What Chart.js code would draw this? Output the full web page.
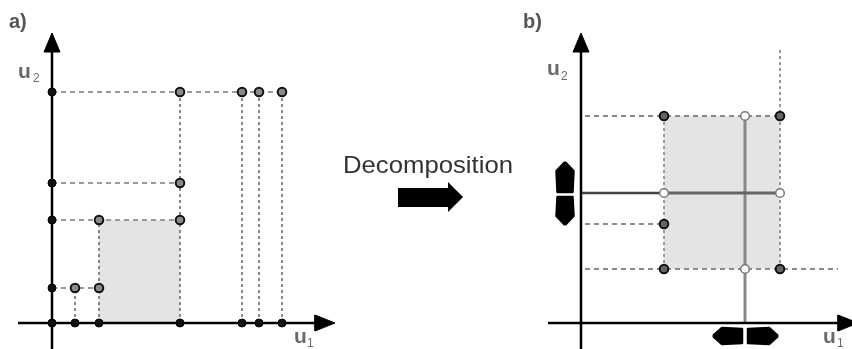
<!DOCTYPE html>
<html><head><meta charset="utf-8">
<script src="https://cdn.jsdelivr.net/npm/chart.js@4"></script>
<style>
html,body{margin:0;padding:0;background:#fff;width:852px;height:349px;overflow:hidden}
#a{position:absolute;left:0;top:0}
#b{position:absolute;left:520px;top:0}
svg{position:absolute;left:0;top:0}
text{font-family:"Liberation Sans",Arial,sans-serif}
</style></head><body>
<canvas id="a" width="340" height="349"></canvas>
<canvas id="b" width="332" height="349"></canvas>
<svg width="852" height="349">
  <text x="9" y="28" font-size="20" font-weight="bold" fill="#555">a)</text>
  <text x="18" y="78" font-size="21" font-weight="bold" fill="#6a6a6a">u</text>
  <text x="33" y="82" font-size="12" fill="#6a6a6a">2</text>
  <text x="294" y="343" font-size="21" font-weight="bold" fill="#6a6a6a">u</text>
  <text x="307" y="347" font-size="12" fill="#6a6a6a">1</text>
  <text x="523" y="28" font-size="20" font-weight="bold" fill="#555">b)</text>
  <text x="547" y="75" font-size="21" font-weight="bold" fill="#6a6a6a">u</text>
  <text x="561" y="80" font-size="12" fill="#6a6a6a">2</text>
  <text x="823" y="343" font-size="21" font-weight="bold" fill="#6a6a6a">u</text>
  <text x="837" y="347" font-size="12" fill="#6a6a6a">1</text>
  <text x="343" y="173" font-size="24" fill="#333" textLength="170" lengthAdjust="spacingAndGlyphs">Decomposition</text>
  <polygon points="398,188 448,188 448,182 463,197 448,212 448,207 398,207" fill="#000"/>
</svg>
<script>
// ---------- data: panel a (units of u1 / u2) ----------
const aU1Ticks = [2.3, 4.7, 12.8, 19.0, 20.7, 23.0];
const aU2Ticks = [3.5, 10.3, 14.0, 23.1];
const aPtsU1 = [2.3, 4.7, 4.7, 12.8, 12.8, 12.8, 19.0, 20.7, 23.0];
const aPtsU2 = [3.5, 3.5, 10.3, 10.3, 14.0, 23.1, 23.1, 23.1, 23.1];
const aBoxU1 = [4.7, 12.8];
const aBoxU2 = [0, 10.3];
// ---------- data: panel b ----------
const bDarkU1 = [8.3, 19.9, 8.3, 8.3, 19.9];
const bDarkU2 = [20.7, 20.7, 9.9, 5.4, 5.4];
const bOpenU1 = [16.4, 8.3, 19.9, 16.4];
const bOpenU2 = [20.7, 13.0, 13.0, 5.4];
const bBoxU1 = [8.3, 19.9];
const bBoxU2 = [5.4, 20.7];
const bCrossU1 = 16.4, bCrossU2 = 13.0;
const bHorizU2 = [20.7, 9.9, 5.4];
const bHorizEnd = [19.9, 8.3, 25.7];
const bVertU1 = [8.3, 19.9];
const bVertEnd = [20.7, 27.3];

// ---------- helpers ----------
const P = (x, y) => ({x, y});
function seg(pts, color, width, dash, order) {
  return {data: pts, showLine: true, pointRadius: 0, borderColor: color, borderWidth: width,
          borderDash: dash || [], fill: false, order: order, clip: false, tension: 0, borderCapStyle: 'butt'};
}
function poly(pts, color, border, bw, order) {
  return {data: pts.concat([pts[0]]), showLine: true, pointRadius: 0, fill: 'shape',
          backgroundColor: color, borderColor: border || color, borderWidth: bw || 0,
          borderJoinStyle: 'round', order: order, clip: false, tension: 0};
}
function pts(xs, ys, r, bg, bc, bw, order) {
  return {data: xs.map((x, i) => P(x, ys[i])), showLine: false, pointRadius: r, pointHoverRadius: r,
          pointBackgroundColor: bg, pointBorderColor: bc, pointBorderWidth: bw, order: order, clip: false};
}
function axes(ds, xMin, xTip, yMin, yTip) {
  ds.push(seg([P(xMin, 0), P(xTip - 1.0, 0)], '#000', 2.5, null, 3));
  ds.push(seg([P(0, yMin), P(0, yTip - 1.0)], '#000', 2.5, null, 3));
  ds.push(poly([P(xTip, 0), P(xTip - 2.0, 0.8), P(xTip - 2.0, -0.8)], '#000', '#000', 1, 3));
  ds.push(poly([P(0, yTip), P(-0.8, yTip - 1.9), P(0.8, yTip - 1.9)], '#000', '#000', 1, 3));
}
function makeChart(id, xmin, xmax, datasets) {
  return new Chart(document.getElementById(id), {
    type: 'scatter',
    data: {datasets},
    options: {
      responsive: false, animation: false, devicePixelRatio: 1,
      layout: {padding: 0, autoPadding: false},
      plugins: {legend: {display: false}, tooltip: {enabled: false}},
      events: [],
      scales: {
        x: {type: 'linear', display: false, min: xmin, max: xmax},
        y: {type: 'linear', display: false, min: -2.6, max: 32.3}
      }
    }
  });
}

// ---------- panel a ----------
const dsA = [];
dsA.push(poly([P(aBoxU1[0], aBoxU2[0]), P(aBoxU1[1], aBoxU2[0]), P(aBoxU1[1], aBoxU2[1]), P(aBoxU1[0], aBoxU2[1])], '#e4e4e4', '#e4e4e4', 0, 10));
aU2Ticks.forEach(v => {
  const xe = Math.max(...aPtsU1.filter((x, i) => aPtsU2[i] === v));
  dsA.push(seg([P(0, v), P(xe, v)], '#9a9a9a', 2, [5, 4], 6));
});
aU1Ticks.forEach(v => {
  const ye = Math.max(...aPtsU2.filter((y, i) => aPtsU1[i] === v));
  dsA.push(seg([P(v, 0), P(v, ye)], '#6e6e6e', 1.6, [3, 3], 6));
});
axes(dsA, -3.4, 28.3, -2.6, 29.0);
dsA.push(pts(aU1Ticks.concat([0]), aU1Ticks.map(() => 0).concat([0]), 4, '#111', '#000', 1, 1));
dsA.push(pts(aU2Ticks.map(() => 0), aU2Ticks, 4, '#111', '#000', 1, 1));
dsA.push(pts(aPtsU1, aPtsU2, 4.3, '#8a8a8a', '#111', 2, 1));
makeChart('a', -5.2, 28.8, dsA);

// ---------- panel b ----------
const dsB = [];
dsB.push(poly([P(bBoxU1[0], bBoxU2[0]), P(bBoxU1[1], bBoxU2[0]), P(bBoxU1[1], bBoxU2[1]), P(bBoxU1[0], bBoxU2[1])], '#e4e4e4', '#e4e4e4', 0, 10));
bHorizU2.forEach((v, i) => dsB.push(seg([P(0.4, v), P(bHorizEnd[i], v)], '#8a8a8a', 1.8, [5, 4], 6)));
bVertU1.forEach((v, i) => dsB.push(seg([P(v, bBoxU2[0]), P(v, bVertEnd[i])], '#9a9a9a', 2, [3, 3], 6)));
dsB.push(seg([P(bCrossU1, 0), P(bCrossU1, bBoxU2[1])], '#888', 3, null, 5));
dsB.push(seg([P(0, bCrossU2), P(bBoxU1[0], bCrossU2)], '#444', 2.5, null, 5));
dsB.push(seg([P(bBoxU1[0], bCrossU2), P(bBoxU1[1], bCrossU2)], '#666', 3, null, 4));
axes(dsB, -3.3, 27.7, -2.6, 29.0);
// double arrows (movement directions)
dsB.push(poly([P(-1.6, 16.1), P(-0.75, 15.2), P(-0.85, 13.1), P(-2.35, 13.1), P(-2.45, 15.2)], '#000', '#000', 2.5, 2));
dsB.push(poly([P(-1.6, 9.8), P(-0.75, 10.7), P(-0.85, 12.6), P(-2.35, 12.6), P(-2.45, 10.7)], '#000', '#000', 2.5, 2));
dsB.push(poly([P(13.2, -1.3), P(14.1, -0.5), P(16.1, -0.6), P(16.1, -2.0), P(14.1, -2.1)], '#000', '#000', 2.5, 2));
dsB.push(poly([P(19.7, -1.3), P(18.8, -0.5), P(16.7, -0.6), P(16.7, -2.0), P(18.8, -2.1)], '#000', '#000', 2.5, 2));
dsB.push(pts(bDarkU1, bDarkU2, 4.3, '#666', '#111', 2, 1));
dsB.push(pts(bOpenU1, bOpenU2, 4.3, '#fff', '#777', 1.5, 1));
makeChart('b', -6.1, 27.1, dsB);
</script>
</body></html>
